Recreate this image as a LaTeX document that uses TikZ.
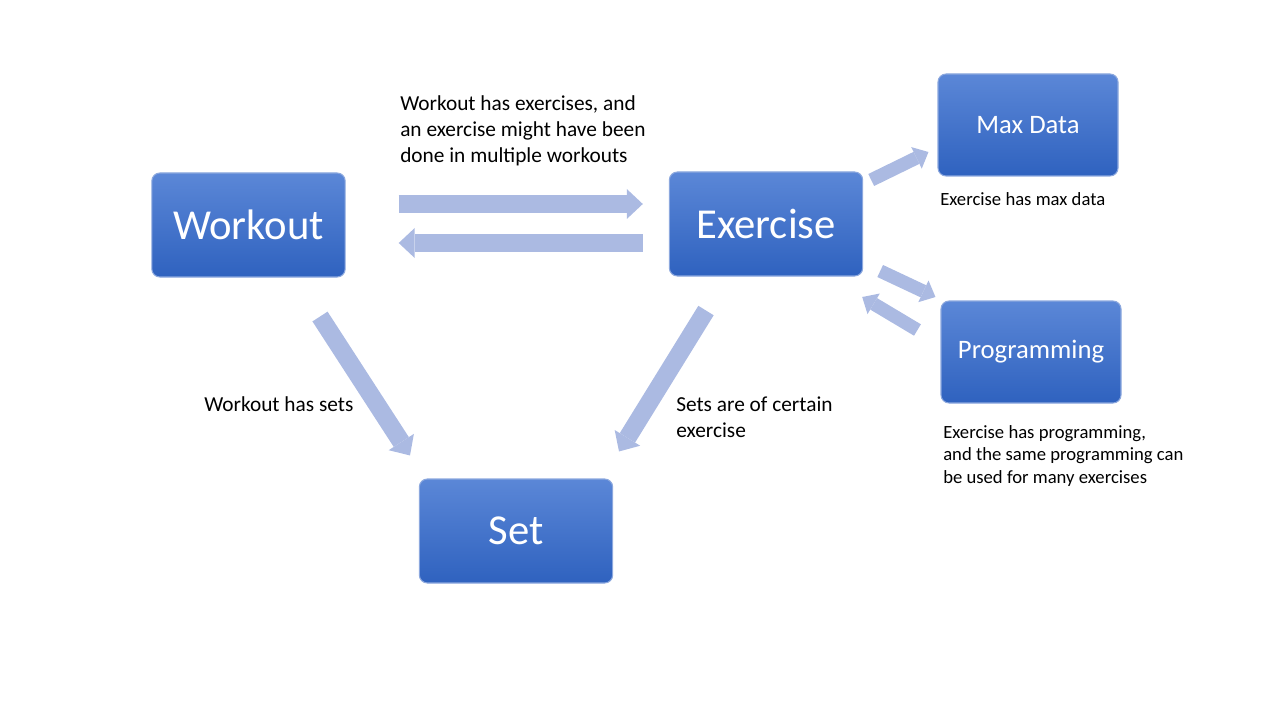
\documentclass[tikz,border=0pt]{standalone}
\usepackage{fontspec}
\setmainfont{Carlito}
\usetikzlibrary{positioning}
\usetikzlibrary{calc}
\usetikzlibrary{arrows.meta}
\definecolor{boxtop}{HTML}{5B87D7}
\definecolor{boxbot}{HTML}{2F62BF}
\definecolor{boxrim}{HTML}{8CA8DE}
\definecolor{fat}{HTML}{ABBAE2}
\tikzset{ent/.style={draw=boxrim, line width=0.8pt, rounded corners=6pt, top color=boxtop, bottom color=boxbot, text=white, minimum width=145pt, minimum height=78pt, font=\fontsize{32}{38}\selectfont}}
\tikzset{subent/.style={ent, minimum width=135pt, minimum height=76.5pt, font=\fontsize{20}{24}\selectfont}}
\tikzset{rel/.style={draw=fat, line width=13.5pt, -{Triangle[width=22.5pt,length=12pt,line width=0pt]}}}
\tikzset{relsm/.style={draw=fat, line width=10pt, -{Triangle[width=18pt,length=10pt,line width=0pt]}}}
\tikzset{note/.style={anchor=west, align=left, inner sep=0pt, font=\fontsize{16}{19.5}\selectfont}}
\tikzset{notesm/.style={note, font=\fontsize{14}{16.9}\selectfont}}

\begin{document}
\begin{tikzpicture}[x=0.75pt, y=-0.75pt]
\useasboundingbox (0,0) rectangle (1280,720);

\node[ent] (workout) at (248.5, 225) {Workout};
\node[ent] (exercise) at (766, 224) {Exercise};
\node[ent] (set) at (516, 531) {Set};
\node[subent] (max) at (1028, 125) {Max Data};
\node[subent] (prog) at (1031, 352) {Programming};

\node[note] (wenote) at (400, 131) {Workout has exercises, and\\an exercise might have been\\done in multiple workouts};
\node[note] (wsnote) at (204, 404) {Workout has sets};
\node[note] (esnote) at (676, 417) {Sets are of certain\\exercise};
\node[notesm] (maxnote) at (940, 199) {Exercise has max data};
\node[notesm] (prognote) at (943, 456) {Exercise has programming,\\and the same programming can\\be used for many exercises};

\draw[rel] ($(workout.east)+(53,-21)$) -- ($(exercise.west)+(-26,-20)$);
\draw[rel] ($(exercise.west)+(-26,19)$) -- ($(workout.east)+(53,18)$);
\draw[rel] ($(workout.south)+(71.5,39)$) -- ($(set.north)+(-106,-23)$);
\draw[rel] ($(exercise.south)+(-60,34)$) -- ($(set.north)+(103,-27)$);

\draw[relsm] ($(exercise.east)+(8,-44)$) -- ($(max.west)+(-9,27)$);
\draw[relsm] ($(exercise.east)+(17,47)$) -- ($(prog.west)+(-5,-55)$);
\draw[relsm] ($(prog.west)+(-23,-22)$) -- ($(exercise.east)+(-1,73)$);
\end{tikzpicture}
\end{document}
